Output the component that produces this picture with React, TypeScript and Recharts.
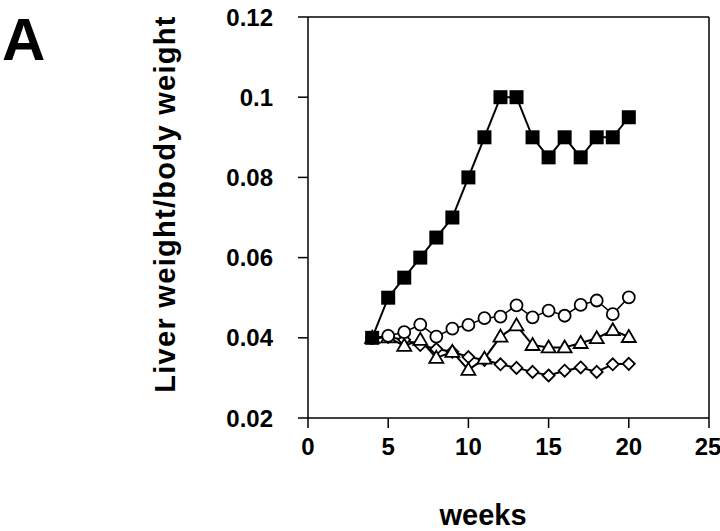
import { Label, Line, LineChart, ReferenceLine, XAxis, YAxis } from "recharts";

const weeks = [4, 5, 6, 7, 8, 9, 10, 11, 12, 13, 14, 15, 16, 17, 18, 19, 20];
const filledSquares = [0.04, 0.05, 0.055, 0.06, 0.065, 0.07, 0.08, 0.09, 0.1, 0.1, 0.09, 0.085, 0.09, 0.085, 0.09, 0.09, 0.095];
const openCircles = [0.04, 0.0405, 0.0414, 0.0433, 0.0403, 0.0423, 0.0432, 0.0449, 0.0453, 0.0481, 0.0451, 0.0468, 0.0455, 0.0482, 0.0493, 0.0459, 0.0501];
const openTriangles = [0.04, 0.0401, 0.038, 0.0395, 0.035, 0.0365, 0.032, 0.0348, 0.0403, 0.0431, 0.0382, 0.0376, 0.0376, 0.0387, 0.0399, 0.0419, 0.0402];
const openDiamonds = [0.04, 0.0402, 0.0395, 0.0382, 0.0372, 0.0365, 0.0352, 0.0345, 0.0334, 0.0325, 0.0315, 0.0306, 0.0318, 0.0326, 0.0315, 0.0334, 0.0335];

const xTicks = [0, 5, 10, 15, 20, 25];
const yTicks = [0.02, 0.04, 0.06, 0.08, 0.1, 0.12];

const data = weeks.map((w, i) => ({
  week: w,
  square: filledSquares[i],
  circle: openCircles[i],
  triangle: openTriangles[i],
  diamond: openDiamonds[i],
}));

const FONT = '"Liberation Sans", Arial, Helvetica, sans-serif';
const tickStyle = { fill: "#000", fontSize: 24, fontWeight: 700, fontFamily: FONT };

type DotProps = { cx?: number; cy?: number; index?: number };

const SquareDot = ({ cx = 0, cy = 0, index }: DotProps) => (
  <rect key={`s${index}`} x={cx - 7} y={cy - 7} width={14} height={14} fill="#000" />
);

const CircleDot = ({ cx = 0, cy = 0, index }: DotProps) => (
  <circle key={`c${index}`} cx={cx} cy={cy} r={6} fill="#fff" stroke="#000" strokeWidth={1.8} />
);

const TriangleDot = ({ cx = 0, cy = 0, index }: DotProps) => (
  <polygon
    key={`t${index}`}
    points={`${cx},${cy - 7} ${cx + 7},${cy + 5} ${cx - 7},${cy + 5}`}
    fill="#fff"
    stroke="#000"
    strokeWidth={1.8}
  />
);

const DiamondDot = ({ cx = 0, cy = 0, index }: DotProps) => (
  <polygon
    key={`d${index}`}
    points={`${cx},${cy - 6} ${cx + 6},${cy} ${cx},${cy + 6} ${cx - 6},${cy}`}
    fill="#fff"
    stroke="#000"
    strokeWidth={1.8}
  />
);

export default function App() {
  return (
    <div style={{ position: "absolute", left: 0, top: 0, width: 720, height: 531, background: "#fff" }}>
      <div
        style={{
          position: "absolute",
          left: 2,
          top: 10,
          fontFamily: FONT,
          fontWeight: 700,
          fontSize: 60,
          lineHeight: "60px",
        }}
      >
        A
      </div>
      <LineChart
        width={720}
        height={531}
        data={data}
        margin={{ top: 17, right: 11, left: 228, bottom: 0 }}
      >
        <XAxis
          dataKey="week"
          type="number"
          domain={[0, 25]}
          ticks={xTicks}
          height={113}
          stroke="#000"
          strokeWidth={1.5}
          tickSize={10}
          tickMargin={10}
          tick={tickStyle}
        >
          <Label
            content={() => (
              <text
                x={483}
                y={525}
                textAnchor="middle"
                style={{ fontFamily: FONT, fontWeight: 700, fontSize: 29, fill: "#000" }}
              >
                weeks
              </text>
            )}
          />
        </XAxis>
        <YAxis
          type="number"
          domain={[0.02, 0.12]}
          ticks={yTicks}
          width={80}
          stroke="#000"
          strokeWidth={1.5}
          tickSize={10}
          tickMargin={25}
          tick={tickStyle}
        >
          <Label
            content={() => (
              <text
                x={165}
                y={204}
                textAnchor="middle"
                dominantBaseline="central"
                transform="rotate(-90 165 204)"
                style={{ fontFamily: FONT, fontWeight: 700, fontSize: 29, fill: "#000", letterSpacing: 1.3 }}
              >
                Liver weight/body weight
              </text>
            )}
          />
        </YAxis>
        <ReferenceLine y={0.12} stroke="#000" strokeWidth={1.5} />
        <ReferenceLine x={25} stroke="#000" strokeWidth={1.5} />
        <Line
          dataKey="diamond"
          stroke="#000"
          strokeWidth={2}
          dot={DiamondDot}
          isAnimationActive={false}
        />
        <Line
          dataKey="triangle"
          stroke="#000"
          strokeWidth={2}
          dot={TriangleDot}
          isAnimationActive={false}
        />
        <Line
          dataKey="circle"
          stroke="#000"
          strokeWidth={1.5}
          dot={CircleDot}
          isAnimationActive={false}
        />
        <Line
          dataKey="square"
          stroke="#000"
          strokeWidth={2}
          dot={SquareDot}
          isAnimationActive={false}
        />
      </LineChart>
    </div>
  );
}
